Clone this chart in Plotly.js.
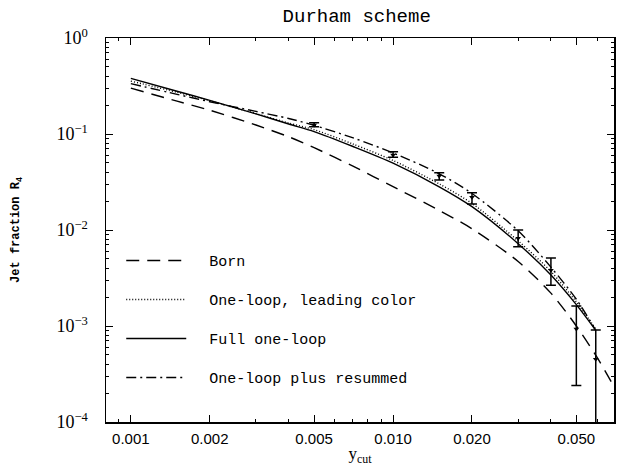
<!DOCTYPE html>
<html>
<head>
<meta charset="utf-8">
<script src="https://cdn.plot.ly/plotly-3.0.1.min.js"></script>
<style>html,body{margin:0;padding:0;background:#fff;}#chart{width:628px;height:466px;}</style>
</head>
<body>
<div id="chart"></div>
<script>
// ---- data ----
var xCurve = [0.001, 0.0015, 0.002, 0.003, 0.004, 0.005, 0.007, 0.010, 0.015, 0.020, 0.030, 0.040, 0.050, 0.0593];
var xBorn = [0.001, 0.0015, 0.002, 0.003, 0.004, 0.005, 0.007, 0.010, 0.015, 0.020, 0.030, 0.040, 0.050, 0.060, 0.0705];
var yBorn = [0.30, 0.22, 0.177, 0.124, 0.0935, 0.072, 0.0465, 0.0283, 0.0160, 0.0103, 0.0047, 0.0022, 0.00100, 0.00047, 0.00022];
var yLeading = [0.356, 0.272, 0.222, 0.163, 0.130, 0.111, 0.079, 0.0530, 0.0302, 0.0189, 0.0077, 0.0037, 0.00178, 0.00093];
var yFull = [0.38, 0.279, 0.224, 0.162, 0.127, 0.106, 0.0745, 0.0497, 0.0282, 0.0175, 0.0072, 0.0034, 0.00167, 0.0009];
var yResum = [0.335, 0.259, 0.217, 0.172, 0.145, 0.123, 0.0915, 0.0635, 0.0385, 0.0240, 0.0098, 0.0041, 0.0019, 0.0009];
var xData = [0.005, 0.010, 0.015, 0.020, 0.030, 0.040, 0.050, 0.0593];
var yData = [0.124, 0.0605, 0.0365, 0.0219, 0.0082, 0.0038, 0.00093, 0.00045];
var errPlus = [0.007, 0.005, 0.003, 0.0026, 0.0018, 0.0013, 0.00069, 0.00046];
var errMinus = [0.005, 0.0033, 0.0033, 0.0032, 0.0015, 0.00114, 0.00069, 0.000449];
var seriesNames = ['Born', 'One-loop, leading color', 'Full one-loop', 'One-loop plus resummed'];
var xTickVals = [0.001, 0.002, 0.005, 0.010, 0.020, 0.050];
var xTickText = ['0.001', '0.002', '0.005', '0.010', '0.020', '0.050'];
var yTickVals = [1e-4, 1e-3, 1e-2, 1e-1, 1];
var yTickText = ['10<sup>\u22124</sup>', '10<sup>\u22123</sup>', '10<sup>\u22122</sup>', '10<sup>\u22121</sup>', '10<sup>0</sup>'];

// minor tick positions (axis decoration)
var xMinor = [], yMinor = [];
for (var e = -4; e <= -1; e++) for (var m = 1; m <= 9; m++) {
  var v = m * Math.pow(10, e);
  if (v > 0.0008 && v < 0.07) xMinor.push(v);
}
for (var e2 = -4; e2 < 0; e2++) for (var m2 = 2; m2 <= 9; m2++) yMinor.push(m2 * Math.pow(10, e2));

var pad = '\u00a0\u00a0';
var lineW = 1.4;
var traces = [
  {x: xBorn, y: yBorn, name: pad + seriesNames[0], mode: 'lines', line: {color: '#000', width: lineW, dash: '13px,8px', shape: 'spline', smoothing: 0.8}, legendgroup: 'a'},
  {x: xCurve, y: yLeading, name: pad + seriesNames[1], mode: 'lines', line: {color: '#000', width: lineW, dash: '1px,2px', shape: 'spline', smoothing: 0.8}, legendgroup: 'b'},
  {x: xCurve, y: yFull, name: pad + seriesNames[2], mode: 'lines', line: {color: '#000', width: lineW, shape: 'spline', smoothing: 0.8}, legendgroup: 'c'},
  {x: xCurve, y: yResum, name: pad + seriesNames[3], mode: 'lines', line: {color: '#000', width: lineW, dash: '10px,4px,2px,4px', shape: 'spline', smoothing: 0.8}, legendgroup: 'd'},
  {x: xData, y: yData, mode: 'markers', showlegend: false,
   marker: {symbol: 'triangle-down', size: 5, color: '#000'},
   error_y: {type: 'data', symmetric: false, array: errPlus, arrayminus: errMinus, color: '#000', thickness: 1.5, width: 5}}
];

var axisCommon = {
  type: 'log', showgrid: false, zeroline: false, showline: true, linecolor: '#000', linewidth: 1.5,
  mirror: 'allticks', ticks: 'inside', ticklen: 7, tickwidth: 1, tickcolor: '#000', tickmode: 'array'
};
var layout = {
  width: 628, height: 466,
  margin: {l: 106, r: 14, t: 38, b: 44},
  paper_bgcolor: '#fff', plot_bgcolor: '#fff',
  title: {text: 'Durham scheme', font: {family: 'Liberation Mono', size: 19, color: '#000'}, x: 0.568, xanchor: 'center', y: 0.968, yanchor: 'middle'},
  xaxis: Object.assign({}, axisCommon, {
    range: [Math.log10(0.000804), Math.log10(0.0696)],
    tickvals: xTickVals, ticktext: xTickText,
    tickfont: {family: 'Liberation Sans', size: 15, color: '#000'},
    ticklabelstandoff: 2,
    minor: {tickmode: 'array', tickvals: xMinor, ticks: 'inside', ticklen: 3, tickcolor: '#000', showgrid: false},
    title: {text: 'y<sub>cut</sub>', font: {family: 'Liberation Serif', size: 17, color: '#000'}, standoff: 6}
  }),
  yaxis: Object.assign({}, axisCommon, {
    range: [-4, 0],
    tickvals: yTickVals, ticktext: yTickText,
    tickfont: {family: 'Liberation Serif', size: 18, color: '#000'},
    ticklabelstandoff: 13,
    minor: {tickmode: 'array', tickvals: yMinor, ticks: 'inside', ticklen: 3, tickcolor: '#000', showgrid: false},
    title: {text: '<b>Jet fraction R<sub>4</sub></b>', font: {family: 'Liberation Mono', size: 12, color: '#000'}, standoff: 34}
  }),
  showlegend: true,
  legend: {
    x: 0.03, y: 0.463, xanchor: 'left', yanchor: 'top',
    bgcolor: 'rgba(0,0,0,0)', borderwidth: 0,
    font: {family: 'Liberation Mono', size: 15, color: '#000'},
    traceorder: 'grouped', tracegroupgap: 16.5, itemwidth: 60
  }
};

Plotly.newPlot('chart', traces, layout, {displayModeBar: false, staticPlot: true});
</script>
</body>
</html>
